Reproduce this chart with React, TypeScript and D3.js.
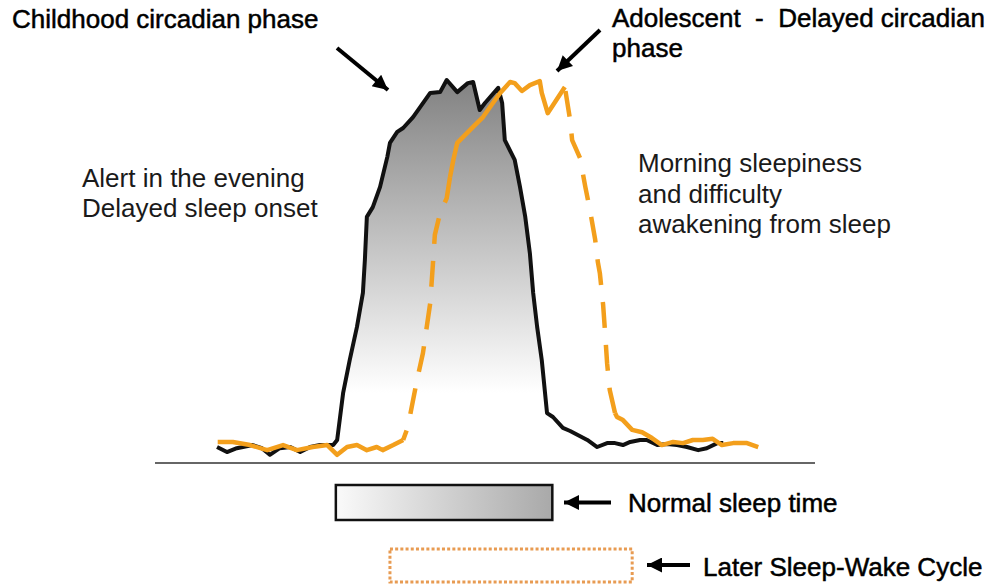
import React from 'react';
import * as d3 from 'd3';

// time on a 0..100 scale across the baseline, level on a 0..100 scale
const childhoodTime = [9.4, 10.9, 12.4, 14.8, 16.2, 17.4, 18.9, 20.5, 22.0, 23.5, 25.0, 27.0, 27.6, 28.5, 29.5, 30.6, 31.5, 31.8, 32.1, 33.0, 34.1, 35.2, 35.6, 36.7, 37.6, 39.1, 40.2, 41.7, 43.2, 44.2, 45.8, 47.4, 48.2, 49.2, 50.0, 52.0, 52.6, 53.0, 54.5, 55.3, 56.1, 56.8, 57.3, 57.9, 58.6, 59.4, 60.3, 61.8, 62.9, 65.5, 67.0, 68.5, 69.7, 70.9, 72.0, 73.5, 74.5, 76.1, 77.6, 79.1, 80.6, 82.3, 83.6, 85.2, 86.1];
const childhoodLevel = [4.1, 2.8, 3.8, 4.6, 3.8, 2.1, 3.8, 4.1, 2.8, 4.1, 4.6, 4.6, 5.9, 17.9, 26.4, 34.9, 43.6, 52.1, 63.1, 65.6, 70.8, 78.5, 82.1, 84.9, 85.9, 88.7, 91.3, 94.9, 95.1, 98.2, 95.1, 97.4, 97.7, 90.5, 92.3, 96.2, 92.3, 82.8, 77.7, 70.8, 63.1, 53.8, 43.6, 34.9, 26.4, 12.8, 11.8, 9.0, 8.2, 5.9, 4.1, 5.1, 5.1, 4.6, 5.4, 5.9, 5.9, 4.6, 4.9, 4.6, 4.1, 3.3, 3.8, 5.1, 5.1];

const adolescentTime = [9.5, 11.8, 14.4, 17.0, 19.4, 21.5, 23.9, 26.1, 27.6, 29.1, 30.6, 32.1, 33.6, 34.5, 36.1, 37.6, 38.3, 39.7, 40.6, 41.7, 42.1, 42.4, 43.2, 44.2, 44.7, 45.2, 45.8, 46.7, 48.2, 49.7, 51.2, 52.3, 53.8, 54.5, 55.6, 56.8, 58.3, 58.6, 59.5, 62.1, 62.9, 63.2, 64.4, 65.2, 65.9, 66.7, 67.1, 67.4, 67.9, 68.2, 68.5, 68.9, 69.7, 70.0, 70.9, 72.3, 73.8, 75.3, 76.8, 78.5, 80.0, 81.5, 83.0, 84.5, 85.9, 87.6, 89.7, 91.4];
const adolescentLevel = [5.4, 5.4, 4.6, 3.3, 4.6, 3.3, 4.1, 4.6, 2.1, 4.1, 4.6, 3.3, 4.1, 3.3, 4.6, 5.9, 9.2, 21.3, 28.2, 41.0, 50.8, 58.5, 64.1, 67.9, 73.3, 77.7, 82.1, 83.6, 86.2, 88.7, 92.3, 94.9, 97.7, 97.4, 95.4, 96.9, 97.9, 94.9, 89.7, 96.4, 87.9, 82.8, 78.2, 70.8, 64.9, 57.2, 51.5, 48.7, 40.5, 33.3, 25.6, 18.7, 12.8, 11.8, 11.0, 8.5, 7.9, 6.4, 4.6, 5.4, 5.1, 5.9, 5.9, 6.2, 4.6, 5.1, 5.1, 4.1];
// index ranges of the adolescent curve that are drawn dashed
const adolescentDashed = [[15, 24], [39, 52]];

const normalSleep = [27.4, 60.2];
const laterSleep = [35.6, 72.3];

const FONT = '"Liberation Sans", Arial, sans-serif';

export default function App() {
  const width = 1002, height = 586;

  const x = d3.scaleLinear().domain([0, 100]).range([155, 815]);
  const y = d3.scaleLinear().domain([0, 100]).range([463, 73]);

  const child = childhoodTime.map((t, i) => [t, childhoodLevel[i]]);
  const teen = adolescentTime.map((t, i) => [t, adolescentLevel[i]]);

  const line = d3.line<number[]>().x(d => x(d[0])).y(d => y(d[1]));
  const area = d3.area<number[]>().x(d => x(d[0])).y0(y(0)).y1(d => y(d[1]));

  // split the adolescent curve into solid / dashed runs
  let runs: { pts: number[][]; dashed: boolean }[] = [];
  let start = 0;
  adolescentDashed.forEach(([a, b]) => {
    runs.push({ pts: teen.slice(start, a + 1), dashed: false });
    // dashed runs are drawn from the end that joins the solid part
    runs.push({ pts: teen.slice(a, b + 1).reverse(), dashed: true });
    start = b;
  });
  runs.push({ pts: teen.slice(start), dashed: false });

  const orange = '#f39f1c';

  return (
    <svg width={width} height={height} style={{ position: 'absolute', left: 0, top: 0, background: '#fff' }}>
      <defs>
        <linearGradient id="peak" gradientUnits="userSpaceOnUse" x1="0" y1={y(98)} x2="0" y2={y(18)}>
          <stop offset="0" stopColor="#828282" />
          <stop offset="1" stopColor="#ffffff" />
        </linearGradient>
        <linearGradient id="box" x1="0" y1="0" x2="1" y2="0">
          <stop offset="0" stopColor="#fafafa" />
          <stop offset="1" stopColor="#a9a9a9" />
        </linearGradient>
        <marker id="head" viewBox="0 0 10 10" refX="10" refY="5" markerWidth="18" markerHeight="15"
          markerUnits="userSpaceOnUse" orient="auto">
          <path d="M0,0 L10,5 L0,10 z" fill="#000" />
        </marker>
      </defs>

      <path d={area(child) || ''} fill="url(#peak)" />
      <line x1={x(0)} x2={x(100)} y1={y(0)} y2={y(0)} stroke="#666" strokeWidth={2} />

      <path d={line(child) || ''} fill="none" stroke="#111" strokeWidth={4} strokeLinejoin="round" />
      {runs.map((r, i) => (
        <path key={i} d={line(r.pts) || ''} fill="none" stroke={orange} strokeWidth={4.5}
          strokeLinejoin="round" strokeDasharray={r.dashed ? '26 17' : undefined} />
      ))}

      <rect x={x(normalSleep[0])} y={485} width={x(normalSleep[1]) - x(normalSleep[0])} height={35}
        fill="url(#box)" stroke="#111" strokeWidth={2.5} />
      <rect x={x(laterSleep[0])} y={549} width={x(laterSleep[1]) - x(laterSleep[0])} height={33}
        fill="none" stroke="#e89b52" strokeWidth={3} strokeDasharray="3 2.2" />

      <line x1={337} y1={48} x2={388} y2={90} stroke="#000" strokeWidth={4} markerEnd="url(#head)" />
      <line x1={600} y1={30} x2={557} y2={71} stroke="#000" strokeWidth={4} markerEnd="url(#head)" />
      <line x1={611} y1={502.5} x2={564} y2={502.5} stroke="#000" strokeWidth={4} markerEnd="url(#head)" />
      <line x1={690} y1={565} x2={647} y2={565} stroke="#000" strokeWidth={4} markerEnd="url(#head)" />

      <g fontFamily={FONT} fill="#000" stroke="#000" strokeWidth={0.5} fontSize={26}>
        <text x={12} y={28}>Childhood circadian phase</text>
        <text x={612} y={27} style={{ whiteSpace: 'pre' }}>Adolescent  -  Delayed circadian</text>
        <text x={612} y={57}>phase</text>
        <text x={628} y={512}>Normal sleep time</text>
        <text x={703} y={576}>Later Sleep-Wake Cycle</text>
      </g>
      <g fontFamily={FONT} fill="#1a1a1a" fontSize={26}>
        <text x={82} y={187}>Alert in the evening</text>
        <text x={82} y={217}>Delayed sleep onset</text>
        <text x={638} y={172}>Morning sleepiness</text>
        <text x={638} y={203}>and difficulty</text>
        <text x={638} y={233}>awakening from sleep</text>
      </g>
    </svg>
  );
}
